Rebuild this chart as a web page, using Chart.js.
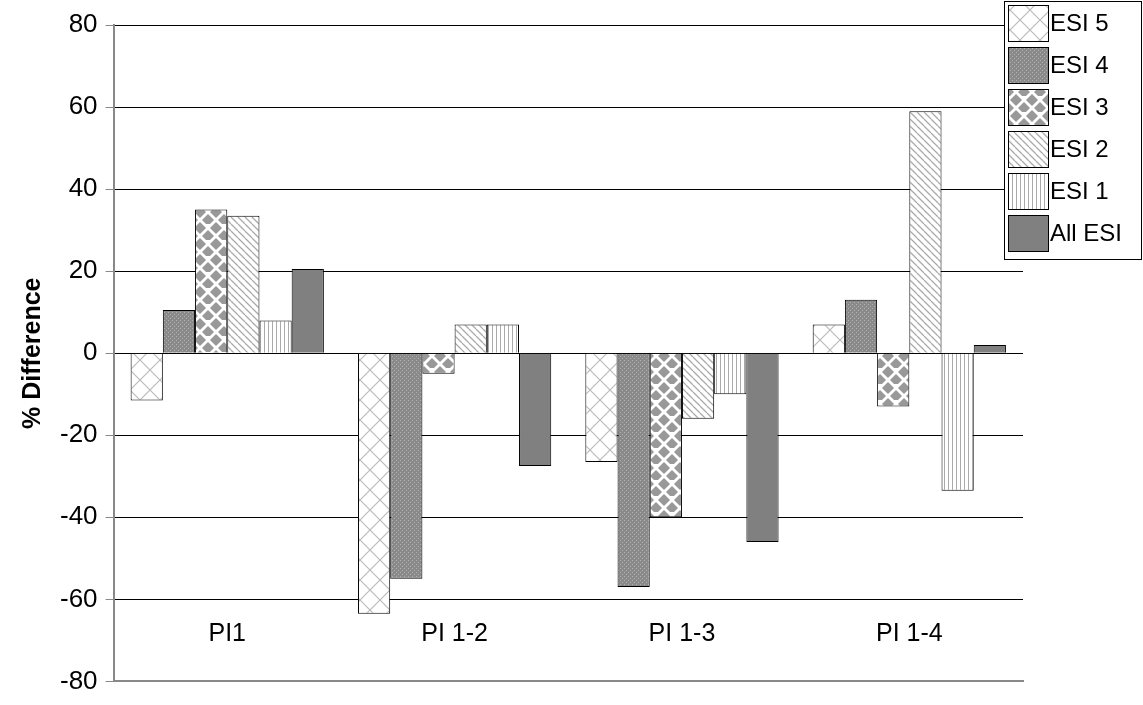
<!DOCTYPE html>
<html><head><meta charset="utf-8">
<script src="https://cdn.jsdelivr.net/npm/chart.js@4"></script>
<style>body{margin:0;background:#fff}#wrap{width:1143px;height:705px}</style>
</head><body><div id="wrap"><canvas id="c"></canvas></div>
<script>
const categories = ['PI1', 'PI 1-2', 'PI 1-3', 'PI 1-4'];
const seriesNames = ['ESI 5', 'ESI 4', 'ESI 3', 'ESI 2', 'ESI 1', 'All ESI'];
const esi5 = [-11.5, -63.5, -26.5, 7];
const esi4 = [10.5, -55, -57, 13];
const esi3 = [35, -5, -40, -13];
const esi2 = [33.5, 7, -16, 59];
const esi1 = [8, 7, -10, -33.5];
const allEsi = [20.5, -27.5, -46, 2];
const yTicks = [80, 60, 40, 20, 0, -20, -40, -60, -80];

function pat(draw, w, h) {
  const c = document.createElement('canvas'); c.width = w; c.height = h || w;
  const g = c.getContext('2d'); draw(g, w, h || w);
  return g.createPattern(c, 'repeat');
}
const ctx0 = document.getElementById('c').getContext('2d');
const fills = [
  pat((g, w) => { g.fillStyle = '#fff'; g.fillRect(0,0,w,w); g.strokeStyle = '#bbb'; g.lineWidth = 1.2;
    g.beginPath(); g.moveTo(0,w); g.lineTo(w,0); g.moveTo(-w/2,w/2); g.lineTo(w/2,-w/2); g.moveTo(w/2,w*1.5); g.lineTo(w*1.5,w/2);
    g.moveTo(0,0); g.lineTo(w,w); g.stroke(); }, 20),
  pat((g, w) => { g.fillStyle = '#8a8a8a'; g.fillRect(0,0,w,w); g.fillStyle = '#b0b0b0'; g.fillRect(0,0,1,1); g.fillRect(2,2,1,1); }, 4),
  pat((g, w) => { g.fillStyle = '#fff'; g.fillRect(0,0,w,w); g.fillStyle = '#999';
    const d = (cx, cy) => { g.beginPath(); g.moveTo(cx, cy-6); g.lineTo(cx+6, cy); g.lineTo(cx, cy+6); g.lineTo(cx-6, cy); g.fill(); };
    d(8,4); d(0,12); d(16,12); d(8,20); }, 16),
  pat((g, w) => { g.fillStyle = '#fff'; g.fillRect(0,0,w,w); g.strokeStyle = '#aaa'; g.lineWidth = 1.3;
    g.beginPath(); g.moveTo(0,0); g.lineTo(w,w); g.moveTo(-w,0); g.lineTo(0,w); g.moveTo(0,-w); g.lineTo(w,0); g.stroke(); }, 7),
  pat((g, w) => { g.fillStyle = '#fff'; g.fillRect(0,0,w,w); g.fillStyle = '#aaa'; g.fillRect(0,0,1,w); }, 4),
  '#808080'
];
const values = [esi5, esi4, esi3, esi2, esi1, allEsi];
const FONT = '"Liberation Sans", Arial';

const labelPlugin = {
  id: 'extras',
  afterDraw(chart) {
    const g = chart.ctx, x = chart.scales.x, y = chart.scales.y;
    g.save();
    g.font = '25px ' + FONT; g.fillStyle = '#000'; g.textAlign = 'center'; g.textBaseline = 'middle';
    categories.forEach((c, i) => g.fillText(c, x.getPixelForValue(i), y.getPixelForValue(-68.5)));
    const lx = 1004, ly = 1, lw = 137, rh = 42;
    g.fillStyle = '#fff'; g.fillRect(lx, ly, lw, rh * 6 + 6);
    g.strokeStyle = '#000'; g.lineWidth = 1; g.strokeRect(lx + 0.5, ly + 0.5, lw, rh * 6 + 6);
    g.textAlign = 'left'; g.font = '24px ' + FONT;
    seriesNames.forEach((n, i) => {
      const ty = ly + 4 + i * rh;
      g.fillStyle = fills[i]; g.fillRect(lx + 4, ty, 40, 36);
      g.strokeRect(lx + 4.5, ty + 0.5, 40, 36);
      g.fillStyle = '#000'; g.fillText(n, lx + 46, ty + 19);
    });
    g.restore();
  }
};

new Chart(ctx0, {
  type: 'bar',
  data: {
    labels: categories,
    datasets: seriesNames.map((n, i) => ({ label: n, data: values[i], backgroundColor: fills[i], borderColor: '#000', borderWidth: 1 }))
  },
  options: {
    responsive: true, maintainAspectRatio: false, animation: false,
    layout: { padding: { top: 25, right: 120, bottom: 2, left: 14 } },
    plugins: { legend: { display: false }, tooltip: { enabled: false } },
    datasets: { bar: { categoryPercentage: 0.85, barPercentage: 1 } },
    scales: {
      x: { grid: { display: false }, border: { display: true, color: '#888', width: 2 }, ticks: { display: false } },
      y: {
        min: -80, max: 80,
        afterBuildTicks: s => { s.ticks = yTicks.map(v => ({ value: v })); },
        grid: { color: '#000', lineWidth: 1, drawTicks: true, tickLength: 8, tickColor: '#888' },
        border: { color: '#888', width: 2 },
        ticks: { color: '#000', font: { size: 26, family: FONT }, padding: 8 },
        title: { display: true, text: '% Difference', color: '#000', font: { size: 25, weight: 'bold', family: FONT } }
      }
    }
  },
  plugins: [labelPlugin]
});
</script></body></html>
